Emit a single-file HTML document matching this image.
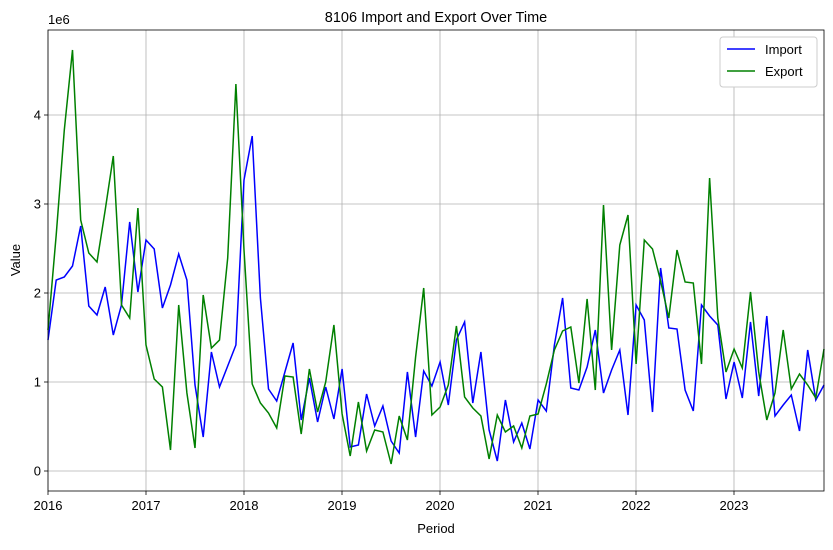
<!DOCTYPE html>
<html><head><meta charset="utf-8"><style>
html,body{margin:0;padding:0;background:#fff;}
svg text{font-family:"Liberation Sans","DejaVu Sans",sans-serif;fill:#000;}
</style></head><body>
<svg id="c" width="833" height="545" xmlns="http://www.w3.org/2000/svg">
<rect width="833" height="545" fill="#fff"/>
<g id="grid" stroke="#b0b0b0" stroke-width="0.8"></g>
<polyline id="imp" fill="none" stroke="#0000ff" stroke-width="1.5"/>
<polyline id="exp" fill="none" stroke="#008000" stroke-width="1.5"/>
<rect x="48" y="30" width="776" height="461" fill="none" stroke="#000" stroke-width="0.8"/>
<g id="ticks" stroke="#000" stroke-width="0.8"></g>
<g id="labels" font-size="13"></g>
<text x="436" y="22" font-size="14.5" text-anchor="middle">8106 Import and Export Over Time</text>
<text x="436" y="533" font-size="13" text-anchor="middle">Period</text>
<text x="20" y="260" font-size="13" text-anchor="middle" transform="rotate(-90 20 260)">Value</text>
<text x="48" y="24" font-size="13">1e6</text>
<g>
<rect x="720" y="37" width="97" height="50" rx="3" fill="#fff" stroke="#ccc"/>
<line x1="727" y1="49" x2="755" y2="49" stroke="#0000ff" stroke-width="1.5"/>
<text x="765" y="54" font-size="13">Import</text>
<line x1="727" y1="71" x2="755" y2="71" stroke="#008000" stroke-width="1.5"/>
<text x="765" y="76" font-size="13">Export</text>
</g>
</svg>
<script>
var imp=[340,280,277,266,226,306,315,287,335,305,222,292,240,249,308,285,254,280,385,437,352,387,366,345,180,136,298,389,401,372,343,420,378,422,387,419,369,447,445,394,426,406,441,453,372,437,371,386,362,405,340,322,403,352,430,461,400,442,423,449,400,411,345,298,388,390,367,330,393,370,350,415,305,320,412,268,328,329,390,411,305,316,325,399,362,398,322,396,316,416,405,395,431,350,400,385];
var exp=[330,235,130,50,220,253,262,210,156,305,318,208,345,379,387,450,305,393,448,295,348,340,258,84,250,384,403,413,428,376,377,434,369,412,382,325,414,456,402,451,430,432,464,416,440,357,288,415,407,385,326,397,408,416,459,415,432,426,448,416,414,384,350,331,327,383,299,390,205,350,245,215,364,240,249,281,318,250,282,283,364,178,318,372,349,368,292,372,420,393,330,389,374,385,398,349];
function pts(a){return a.map(function(y,i){return (48+i*776/95).toFixed(1)+","+y}).join(" ");}
document.getElementById("imp").setAttribute("points",pts(imp));
document.getElementById("exp").setAttribute("points",pts(exp));
var g=document.getElementById("grid"),t=document.getElementById("ticks"),l=document.getElementById("labels"),h="",tk="",lb="";
for(var k=0;k<8;k++){var x=48+k*98;h+='<line x1="'+x+'" y1="30" x2="'+x+'" y2="491"/>';tk+='<line x1="'+x+'" y1="491" x2="'+x+'" y2="495"/>';lb+='<text x="'+x+'" y="510" text-anchor="middle">'+(2016+k)+'</text>';}
for(var k=0;k<5;k++){var y=471-k*89;h+='<line x1="48" y1="'+y+'" x2="824" y2="'+y+'"/>';tk+='<line x1="44" y1="'+y+'" x2="48" y2="'+y+'"/>';lb+='<text x="41" y="'+(y+4.5)+'" text-anchor="end">'+k+'</text>';}
g.innerHTML=h;t.innerHTML=tk;l.innerHTML=lb;
</script>
</body></html>
